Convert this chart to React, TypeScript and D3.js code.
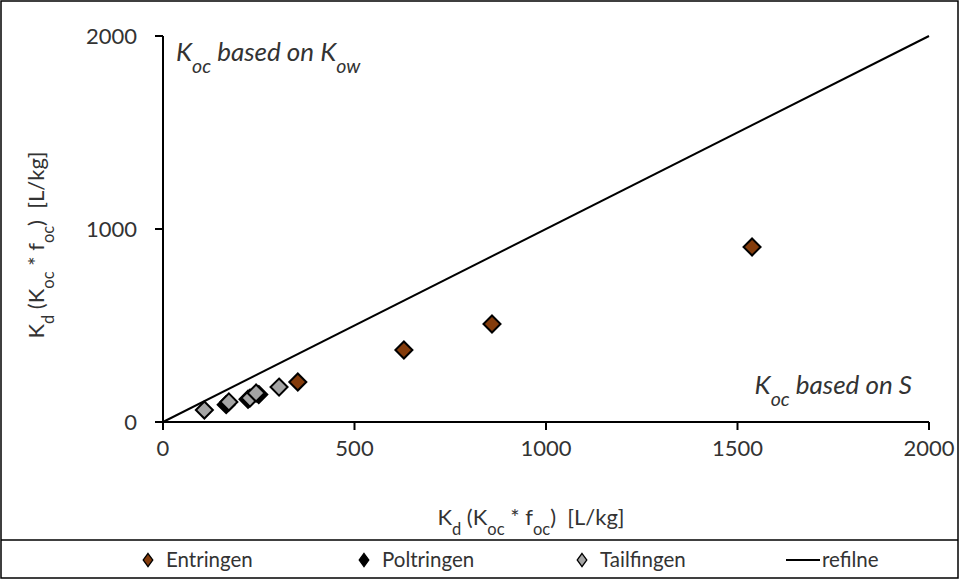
import React from 'react'
import * as d3 from 'd3'

// data
const entringen = [[352, 207], [629, 373], [859, 508], [1538, 907]]
const poltringen = [[165, 90], [222, 118], [250, 142]]
const tailfingen = [[108, 62], [172, 104], [227, 124], [243, 150], [303, 181]]
const refLine = [[0, 0], [2000, 2000]]
const xTicks = [0, 500, 1000, 1500, 2000]
const yTicks = [0, 1000, 2000]

const seriesNames = ['Entringen', 'Poltringen', 'Tailfingen', 'refilne']
const seriesColors = ['#843c0c', '#000000', '#a5a5a5', '#000000']

const W = 960
const H = 581
const font = 'Lato, "Open Sans", sans-serif'
const textColor = '#333'

export default function App() {
    const x = d3.scaleLinear().domain([0, 2000]).range([163, 929])
    const y = d3.scaleLinear().domain([0, 2000]).range([422, 36])

    const diamond = d3.symbol().type(d3.symbolDiamond2).size(185)
    const line = d3.line().x(d => x(d[0])).y(d => y(d[1]))

    const points = (data, color) =>
        data.map((d, i) => (
            <path key={i} d={diamond()} transform={`translate(${x(d[0])},${y(d[1])})`}
                fill={color} stroke="#000" strokeWidth={2} />
        ))

    const sub = (t) => <tspan baselineShift="sub" fontSize="0.75em">{t}</tspan>
    const gap = '\u00a0\u00a0'

    const legendX = [148, 364, 582, 790]

    return (
        <svg width={W} height={H} style={{ position: 'absolute', left: 0, top: 0 }} fontFamily={font}>
            <rect x={0} y={0} width={W} height={H} fill="#fff" />
            <rect x={1} y={1} width={957} height={577} fill="none" stroke="#000" strokeWidth={1.5} />
            <line x1={1} x2={958} y1={540} y2={540} stroke="#000" strokeWidth={1.5} />

            {/* reference line */}
            <path d={line(refLine)} fill="none" stroke="#000" strokeWidth={2} />

            {/* axes */}
            <line x1={x(0)} x2={x(2000)} y1={y(0)} y2={y(0)} stroke="#000" strokeWidth={2} />
            <line x1={x(0)} x2={x(0)} y1={y(0)} y2={y(2000)} stroke="#000" strokeWidth={2} />
            {xTicks.map(t => (
                <g key={t}>
                    <line x1={x(t)} x2={x(t)} y1={y(0)} y2={y(0) + 8} stroke="#000" strokeWidth={2} />
                    <text x={x(t)} y={y(0) + 34} textAnchor="middle" fontSize={22} fill={textColor}>{t}</text>
                </g>
            ))}
            {yTicks.map(t => (
                <g key={t}>
                    <line x1={x(0) - 8} x2={x(0)} y1={y(t)} y2={y(t)} stroke="#000" strokeWidth={2} />
                    <text x={x(0) - 26} y={y(t) + 8} textAnchor="end" fontSize={22} fill={textColor}>{t}</text>
                </g>
            ))}

            {/* series */}
            {points(poltringen, seriesColors[1])}
            {points(tailfingen, seriesColors[2])}
            {points(entringen, seriesColors[0])}

            {/* annotations */}
            <text x={176} y={61} fontSize={26} fontStyle="italic" fill={textColor}>
                K{sub('oc')} based on K{sub('ow')}
            </text>
            <text x={912} y={394} fontSize={26} fontStyle="italic" fill={textColor} textAnchor="end">
                K{sub('oc')} based on S
            </text>

            {/* axis titles */}
            <text x={531} y={525} textAnchor="middle" fontSize={22} fill={textColor}>
                K{sub('d')} (K{sub('oc')} * f{sub('oc')}){gap}[L/kg]
            </text>
            <text transform="translate(44,245) rotate(-90)" textAnchor="middle" fontSize={22} fill={textColor}>
                K{sub('d')} (K{sub('oc')} * f{sub('oc')}){gap}[L/kg]
            </text>

            {/* legend */}
            {seriesNames.map((name, i) => (
                <g key={name}>
                    {i < 3 ? (
                        <path d={d3.symbol().type(d3.symbolDiamond2).size(90)()}
                            transform={`translate(${legendX[i]},560) scale(0.8,1.1)`}
                            fill={seriesColors[i]} stroke="#000" strokeWidth={1.5} />
                    ) : (
                        <line x1={legendX[i] - 4} x2={legendX[i] + 30} y1={560} y2={560} stroke="#000" strokeWidth={2} />
                    )}
                    <text x={legendX[i] + (i < 3 ? 18 : 32)} y={567} fontSize={20.5} fill={textColor}>{name}</text>
                </g>
            ))}
        </svg>
    )
}
